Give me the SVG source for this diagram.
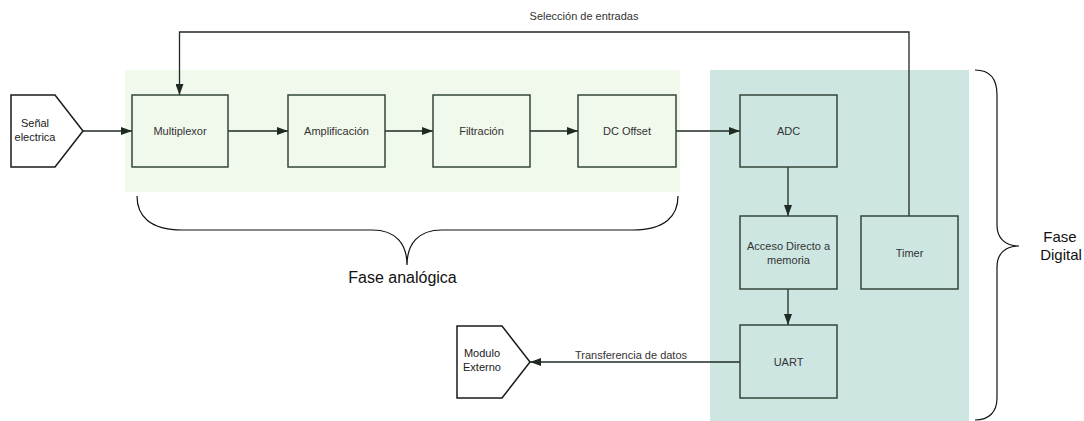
<svg xmlns="http://www.w3.org/2000/svg" width="1084" height="421" viewBox="0 0 1084 421">
  <defs>
    <marker id="arrow" markerUnits="userSpaceOnUse" markerWidth="11" markerHeight="8" refX="11" refY="4" orient="auto">
      <path d="M0,0 L11,4 L0,8 z" fill="#1f2a22"/>
    </marker>
    <style>
      .block { fill: none; stroke: #34463a; stroke-width: 1.5; }
      .io { fill: #ffffff; stroke: #1a1a1a; stroke-width: 1.5; }
      .label { font-family: "Liberation Sans", Arial, sans-serif; font-size: 11px; fill: #333333; text-anchor: middle; }
      .iolabel { font-family: "Liberation Sans", Arial, sans-serif; font-size: 11px; fill: #1a1a1a; text-anchor: middle; }
      .phase { font-family: "Liberation Sans", Arial, sans-serif; fill: #111111; text-anchor: middle; }
      .wire { fill: none; stroke: #1f2a22; stroke-width: 1.3; }
      .brace { fill: none; stroke: #111111; stroke-width: 1.2; }
    </style>
  </defs>

  <!-- phase backgrounds -->
  <rect id="analog-zone" x="125" y="70" width="555" height="122" fill="#f1f8ec"/>
  <rect id="digital-zone" x="710" y="70" width="259" height="351" fill="#cde6e2"/>

  <!-- connectors -->
  <g id="connectors">
    <line class="wire" x1="83" y1="131" x2="132" y2="131" marker-end="url(#arrow)"/>
    <line class="wire" x1="228" y1="131" x2="288" y2="131" marker-end="url(#arrow)"/>
    <line class="wire" x1="385" y1="131" x2="433" y2="131" marker-end="url(#arrow)"/>
    <line class="wire" x1="530" y1="131" x2="578" y2="131" marker-end="url(#arrow)"/>
    <line class="wire" x1="676" y1="131" x2="740" y2="131" marker-end="url(#arrow)"/>
    <line class="wire" x1="788" y1="167" x2="788" y2="216" marker-end="url(#arrow)"/>
    <line class="wire" x1="788" y1="289" x2="788" y2="325" marker-end="url(#arrow)"/>
    <line class="wire" x1="740" y1="362" x2="530" y2="362" marker-end="url(#arrow)"/>
    <polyline class="wire" points="909,216 909,32 179.5,32 179.5,95" marker-end="url(#arrow)"/>
    <text class="label" x="584" y="20" fill="#222">Selección de entradas</text>
    <text class="label" x="631" y="359" fill="#222">Transferencia de datos</text>
  </g>

  <!-- input / output terminals -->
  <g id="senal-electrica">
    <polygon class="io" points="11,95 55,95 83,131 55,167 11,167"/>
    <text class="iolabel" x="35" y="127">Señal</text>
    <text class="iolabel" x="35" y="141">electrica</text>
  </g>
  <g id="modulo-externo">
    <polygon class="io" points="457,326 502,326 530,362 502,398 457,398"/>
    <text class="iolabel" x="482" y="357">Modulo</text>
    <text class="iolabel" x="482" y="371">Externo</text>
  </g>

  <!-- analog chain -->
  <g id="multiplexor">
    <rect class="block" x="132" y="95" width="96" height="72"/>
    <text class="label" x="180" y="135">Multiplexor</text>
  </g>
  <g id="amplificacion">
    <rect class="block" x="288" y="95" width="97" height="72"/>
    <text class="label" x="336.5" y="135">Amplificación</text>
  </g>
  <g id="filtracion">
    <rect class="block" x="433" y="95" width="97" height="72"/>
    <text class="label" x="481.5" y="135">Filtración</text>
  </g>
  <g id="dc-offset">
    <rect class="block" x="578" y="95" width="98" height="72"/>
    <text class="label" x="627" y="135">DC Offset</text>
  </g>

  <!-- digital stage -->
  <g id="adc">
    <rect class="block" x="740" y="95" width="97" height="72"/>
    <text class="label" x="788.5" y="135">ADC</text>
  </g>
  <g id="dma">
    <rect class="block" x="740" y="216" width="97" height="73"/>
    <text class="label" x="788.5" y="249.5">Acceso Directo a</text>
    <text class="label" x="788.5" y="263.5">memoria</text>
  </g>
  <g id="timer">
    <rect class="block" x="861" y="216" width="97" height="73"/>
    <text class="label" x="909.5" y="256.5">Timer</text>
  </g>
  <g id="uart">
    <rect class="block" x="740" y="325" width="97" height="73"/>
    <text class="label" x="788.5" y="365.5">UART</text>
  </g>

  <!-- phase braces -->
  <g id="brace-analog">
    <path class="brace" d="M137,196 C137,216 150,230 182,230 L372,230 C396,230 407,244 407,265 C407,244 418,230 442,230 L633,230 C665,230 678,216 678,196"/>
    <text class="phase" x="402.5" y="283" font-size="16">Fase analógica</text>
  </g>
  <g id="brace-digital">
    <path class="brace" d="M975,70 C990,70 997,79 997,95 L997,225 C997,238 1005,246 1019,246 C1005,246 997,254 997,267 L997,398 C997,412 989,420 975,420"/>
    <text class="phase" x="1060" y="242" font-size="15">Fase</text>
    <text class="phase" x="1061" y="260" font-size="15">Digital</text>
  </g>
</svg>
